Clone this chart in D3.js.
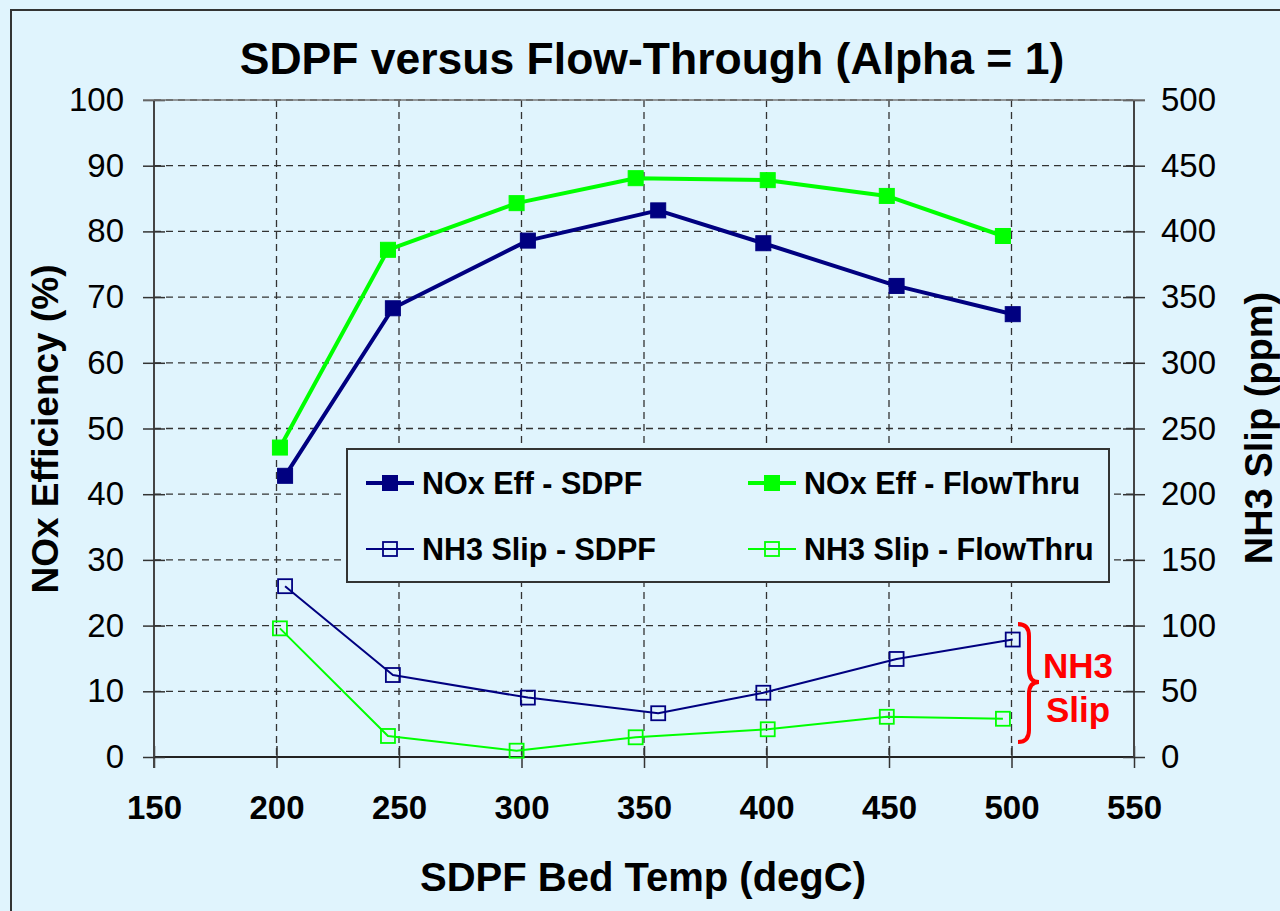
<!DOCTYPE html>
<html>
<head>
<meta charset="utf-8">
<script src="https://cdn.jsdelivr.net/npm/d3@7"></script>
<style>
  body { margin: 0; background: #e0f4fd; }
  text { font-family: "Liberation Sans", Arial, sans-serif; }
</style>
</head>
<body>
<svg id="chart" width="1280" height="911"></svg>
<script>
// data
const TEMP_SDPF = [203.5, 247.5, 302.6, 355.8, 398.7, 453.1, 500.5];
const TEMP_FLOW = [201.4, 245.5, 298.0, 346.6, 400.5, 449.1, 496.5];
const NOX_SDPF = [42.8, 68.3, 78.6, 83.2, 78.2, 71.7, 67.4];
const NOX_FLOW = [47.1, 77.2, 84.3, 88.1, 87.8, 85.4, 79.3];
const NH3_SDPF = [130, 62.4, 45.2, 33.3, 48.9, 74.6, 89.4];
const NH3_FLOW = [97.9, 16.0, 4.8, 15.0, 21.1, 30.6, 29.1];
const X_TICKS = [150, 200, 250, 300, 350, 400, 450, 500, 550];
const Y_TICKS = [0, 10, 20, 30, 40, 50, 60, 70, 80, 90, 100];
const Y2_TICKS = [0, 50, 100, 150, 200, 250, 300, 350, 400, 450, 500];

const NAVY = "#000080";
const LIME = "#00ff00";
const BG = "#e0f4fd";
const PLOT = { left: 154, right: 1134, top: 100, bottom: 757 };
const FONT = "Liberation Sans, Arial, sans-serif";

const svg = d3.select("#chart");

svg.append("rect")
  .attr("x", 11).attr("y", 10)
  .attr("width", 1290).attr("height", 920)
  .attr("fill", BG)
  .attr("stroke", "#333")
  .attr("stroke-width", 2);

const x = d3.scaleLinear().domain([150, 550]).range([PLOT.left, PLOT.right]);
const y = d3.scaleLinear().domain([0, 100]).range([PLOT.bottom, PLOT.top]);
const y2 = d3.scaleLinear().domain([0, 500]).range([PLOT.bottom, PLOT.top]);

// grid
const grid = svg.append("g")
  .attr("stroke", "#333")
  .attr("stroke-width", 1.3)
  .attr("stroke-dasharray", "7,5");
grid.selectAll("line.h")
  .data(Y_TICKS.filter((d) => d > 0))
  .join("line")
  .attr("class", "h")
  .attr("x1", PLOT.left).attr("x2", PLOT.right)
  .attr("y1", (d) => y(d)).attr("y2", (d) => y(d));
grid.selectAll("line.v")
  .data(X_TICKS.slice(1, -1))
  .join("line")
  .attr("class", "v")
  .attr("x1", (d) => x(d)).attr("x2", (d) => x(d))
  .attr("y1", PLOT.top).attr("y2", PLOT.bottom);

// axes
const xAxis = d3.axisBottom(x).tickValues(X_TICKS).tickSize(11);
const gx = svg.append("g")
  .attr("transform", `translate(0,${PLOT.bottom})`)
  .call(xAxis);
gx.selectAll(".tick line").attr("y1", -11).attr("stroke", "#333").attr("stroke-width", 1.5);
gx.select(".domain").attr("stroke", "#222").attr("stroke-width", 2).attr("d", `M${PLOT.left},0H${PLOT.right}`);
gx.selectAll(".tick text")
  .attr("y", 39)
  .attr("font-size", 33)
  .attr("font-weight", "bold")
  .attr("fill", "#000")
  .attr("font-family", FONT);

const yAxis = d3.axisLeft(y).tickValues(Y_TICKS).tickSize(11);
const gy = svg.append("g")
  .attr("transform", `translate(${PLOT.left},0)`)
  .call(yAxis);
gy.selectAll(".tick line").attr("x2", 11).attr("x1", -11).attr("stroke", "#333").attr("stroke-width", 1.5);
gy.select(".domain").attr("stroke", "#444").attr("stroke-width", 2).attr("d", `M0,${PLOT.top}V${PLOT.bottom + 11}`);
gy.selectAll(".tick text")
  .attr("x", -30)
  .attr("font-size", 33)
  .attr("fill", "#000")
  .attr("font-family", FONT);

const y2Axis = d3.axisRight(y2).tickValues(Y2_TICKS).tickSize(11);
const gy2 = svg.append("g")
  .attr("transform", `translate(${PLOT.right},0)`)
  .call(y2Axis);
gy2.selectAll(".tick line").attr("x1", -11).attr("x2", 11).attr("stroke", "#333").attr("stroke-width", 1.5);
gy2.select(".domain").attr("stroke", "#444").attr("stroke-width", 2).attr("d", `M0,${PLOT.top}V${PLOT.bottom}`);
gy2.selectAll(".tick text")
  .attr("x", 27)
  .attr("font-size", 33)
  .attr("fill", "#000")
  .attr("font-family", FONT);

// top border of plot
svg.append("line")
  .attr("x1", PLOT.left - 11).attr("x2", PLOT.right + 11)
  .attr("y1", PLOT.top).attr("y2", PLOT.top)
  .attr("stroke", "#777").attr("stroke-width", 1.5);

// series
const SERIES = [
  { temps: TEMP_FLOW, vals: NOX_FLOW, scale: y, color: LIME, width: 4, filled: true, size: 15 },
  { temps: TEMP_SDPF, vals: NOX_SDPF, scale: y, color: NAVY, width: 4, filled: true, size: 15 },
  { temps: TEMP_SDPF, vals: NH3_SDPF, scale: y2, color: NAVY, width: 2, filled: false, size: 14 },
  { temps: TEMP_FLOW, vals: NH3_FLOW, scale: y2, color: LIME, width: 2, filled: false, size: 14 },
];

for (const s of SERIES) {
  const pts = s.temps.map((t, i) => [t, s.vals[i]]);
  const line = d3.line().x((d) => x(d[0])).y((d) => s.scale(d[1]));
  svg.append("path")
    .attr("d", line(pts))
    .attr("fill", "none")
    .attr("stroke", s.color)
    .attr("stroke-width", s.width)
    .attr("stroke-linejoin", "round");
  svg.append("g")
    .selectAll("rect")
    .data(pts)
    .join("rect")
    .attr("x", (d) => x(d[0]) - s.size / 2)
    .attr("y", (d) => s.scale(d[1]) - s.size / 2)
    .attr("width", s.size)
    .attr("height", s.size)
    .attr("fill", s.filled ? s.color : "none")
    .attr("stroke", s.color)
    .attr("stroke-width", s.filled ? 1 : 1.8);
}

// legend
const LEGEND_LABELS = ["NOx Eff - SDPF", "NOx Eff - FlowThru", "NH3 Slip - SDPF", "NH3 Slip - FlowThru"];
const LEGEND_STYLE = [SERIES[1], SERIES[0], SERIES[2], SERIES[3]];
const legend = svg.append("g");
legend.append("rect")
  .attr("x", 347).attr("y", 449)
  .attr("width", 762).attr("height", 133)
  .attr("fill", BG)
  .attr("stroke", "#333")
  .attr("stroke-width", 2);
LEGEND_LABELS.forEach((label, i) => {
  const s = LEGEND_STYLE[i];
  const lx = i % 2 === 0 ? 366 : 748;
  const ly = i < 2 ? 483 : 549;
  legend.append("line")
    .attr("x1", lx).attr("x2", lx + 48)
    .attr("y1", ly).attr("y2", ly)
    .attr("stroke", s.color)
    .attr("stroke-width", s.width);
  legend.append("rect")
    .attr("x", lx + 24 - s.size / 2).attr("y", ly - s.size / 2)
    .attr("width", s.size).attr("height", s.size)
    .attr("fill", s.filled ? s.color : "none")
    .attr("stroke", s.color)
    .attr("stroke-width", s.filled ? 1 : 1.8);
  legend.append("text")
    .attr("x", lx + 56).attr("y", ly + 11)
    .attr("font-size", 30.5)
    .attr("font-weight", "bold")
    .text(label);
});

// NH3 slip brace
svg.append("path")
  .attr("d", "M1018,624 Q1029,624 1029,636 L1029,670 Q1029,682 1039,682 Q1029,682 1029,694 L1029,730 Q1029,742 1018,742")
  .attr("fill", "none")
  .attr("stroke", "#ff0000")
  .attr("stroke-width", 4);
svg.append("text")
  .attr("x", 1078).attr("y", 678)
  .attr("text-anchor", "middle")
  .attr("font-size", 35)
  .attr("font-weight", "bold")
  .attr("fill", "#ff0000")
  .text("NH3");
svg.append("text")
  .attr("x", 1078).attr("y", 722)
  .attr("text-anchor", "middle")
  .attr("font-size", 35)
  .attr("font-weight", "bold")
  .attr("fill", "#ff0000")
  .text("Slip");

// titles
svg.append("text")
  .attr("x", 652).attr("y", 74)
  .attr("text-anchor", "middle")
  .attr("font-size", 44.5)
  .attr("font-weight", "bold")
  .text("SDPF versus Flow-Through (Alpha = 1)");
svg.append("text")
  .attr("x", 643).attr("y", 891)
  .attr("text-anchor", "middle")
  .attr("font-size", 40)
  .attr("font-weight", "bold")
  .text("SDPF Bed Temp (degC)");
svg.append("text")
  .attr("transform", "translate(58,429) rotate(-90)")
  .attr("text-anchor", "middle")
  .attr("font-size", 37)
  .attr("font-weight", "bold")
  .text("NOx Efficiency (%)");
svg.append("text")
  .attr("transform", "translate(1272,428) rotate(-90)")
  .attr("text-anchor", "middle")
  .attr("font-size", 38)
  .attr("font-weight", "bold")
  .text("NH3 Slip (ppm)");
</script>
</body>
</html>
